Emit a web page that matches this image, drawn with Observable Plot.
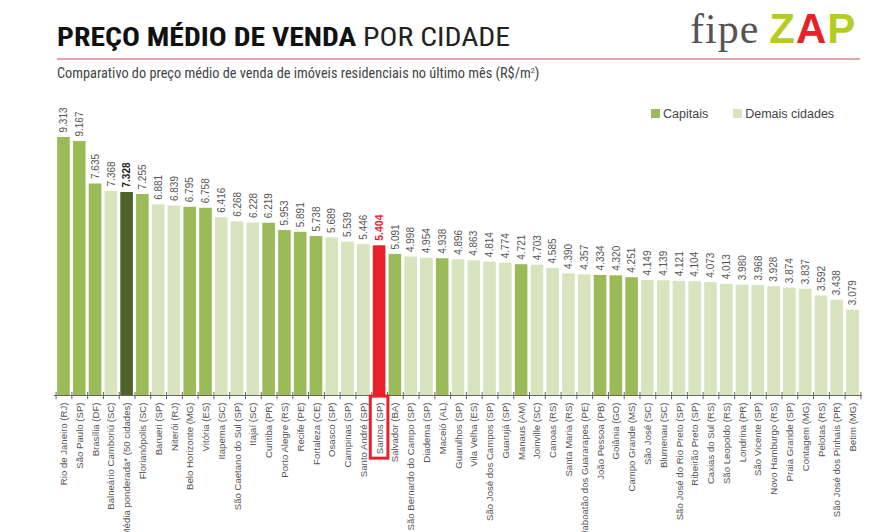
<!DOCTYPE html>
<html>
<head>
<meta charset="utf-8">
<script src="https://cdn.jsdelivr.net/npm/d3@7"></script>
<script src="https://cdn.jsdelivr.net/npm/@observablehq/plot@0.6"></script>
<style>
  html, body { margin: 0; padding: 0; background: #fff; }
  #wrap { position: relative; width: 888px; height: 532px; overflow: hidden; font-family: "Liberation Sans", Arial, sans-serif; }
  #header { position: relative; width: 888px; height: 90px; }
  #title { position: absolute; left: 57px; top: 22px; font-family: "Liberation Sans Narrow", "Roboto Condensed", "Liberation Sans", Arial, sans-serif; font-size: 26px; color: #111; white-space: nowrap; transform: scaleX(1.145); transform-origin: left top; }
  #title b { font-weight: bold; }
  #title span { font-weight: normal; color: #222; }
  #rule { position: absolute; left: 57px; top: 58px; width: 803px; height: 2px; background: #e3a3ab; }
  #subtitle { position: absolute; left: 57px; top: 65px; font-family: "Liberation Sans Narrow", "Roboto Condensed", "Liberation Sans", Arial, sans-serif; font-size: 14.3px; color: #444; white-space: nowrap; }
  #subtitle sup { font-size: 8px; vertical-align: 5px; }
  #logo { position: absolute; left: 690px; top: 5px; white-space: nowrap; }
  #logo .fipe { font-family: "Liberation Serif", "DejaVu Serif", serif; font-size: 42px; color: #555; letter-spacing: 1px; }
  #logo .zap { font-family: "Liberation Sans", Arial, sans-serif; font-weight: bold; font-size: 42px; color: #b5cc22; margin-left: 10px; letter-spacing: 1px; }
  #logo .zap i { font-style: normal; color: #e8202a; }
  #legend { position: absolute; left: 651px; top: 107px; font-size: 12.5px; color: #444; white-space: nowrap; z-index: 5; }
  #legend .sw { display: inline-block; width: 9px; height: 9px; margin-right: 3px; }
  #chart { position: absolute; left: 0; top: 90px; z-index: 1; }
</style>
</head>
<body>
<div id="wrap">
  <div id="header">
    <div id="title"><b>PREÇO MÉDIO DE VENDA</b> <span>POR CIDADE</span></div>
    <div id="logo"><span class="fipe">fipe</span><span class="zap">Z<i>A</i>P</span></div>
    <div id="rule"></div>
    <div id="subtitle">Comparativo do preço médio de venda de imóveis residenciais no último mês (R$/m<sup>2</sup>)</div>
  </div>
  <div id="legend"></div>
  <div id="chart"></div>
</div>
<script>
// ---- data ----
const cities = [
  "Rio de Janeiro (RJ)", "São Paulo (SP)", "Brasília (DF)", "Balneário Camboriú (SC)",
  "Média ponderada* (50 cidades)", "Florianópolis (SC)", "Barueri (SP)", "Niterói (RJ)",
  "Belo Horizonte (MG)", "Vitória (ES)", "Itapema (SC)", "São Caetano do Sul (SP)",
  "Itajaí (SC)", "Curitiba (PR)", "Porto Alegre (RS)", "Recife (PE)", "Fortaleza (CE)",
  "Osasco (SP)", "Campinas (SP)", "Santo André (SP)", "Santos (SP)", "Salvador (BA)",
  "São Bernardo do Campo (SP)", "Diadema (SP)", "Maceió (AL)", "Guarulhos (SP)",
  "Vila Velha (ES)", "São José dos Campos (SP)", "Guarujá (SP)", "Manaus (AM)",
  "Joinville (SC)", "Canoas (RS)", "Santa Maria (RS)", "Jaboatão dos Guararapes (PE)",
  "João Pessoa (PB)", "Goiânia (GO)", "Campo Grande (MS)", "São José (SC)", "Blumenau (SC)",
  "São José do Rio Preto (SP)", "Ribeirão Preto (SP)", "Caxias do Sul (RS)",
  "São Leopoldo (RS)", "Londrina (PR)", "São Vicente (SP)", "Novo Hamburgo (RS)",
  "Praia Grande (SP)", "Contagem (MG)", "Pelotas (RS)", "São José dos Pinhais (PR)", "Betim (MG)"
];
const prices = [
  9313, 9167, 7635, 7368, 7328, 7255, 6881, 6839, 6795, 6758, 6416, 6268, 6228, 6219,
  5953, 5891, 5738, 5689, 5539, 5446, 5404, 5091, 4998, 4954, 4938, 4896, 4863, 4814,
  4774, 4721, 4703, 4585, 4390, 4357, 4334, 4320, 4251, 4149, 4139, 4121, 4104, 4073,
  4013, 3980, 3968, 3928, 3874, 3837, 3592, 3438, 3079
];
// C = capital, D = demais cidades, M = média ponderada, S = Santos (destaque)
const groups = [
  "C","C","C","D","M","C","D","D","C","C","D","D","D","C","C","C","C","D","D","D","S","C",
  "D","D","C","D","D","D","D","C","D","D","D","D","C","C","C","D","D","D","D","D","D","D",
  "D","D","D","D","D","D","D"
];
const groupKeys = ["C", "D", "M", "S"];
const groupNames = ["Capitais", "Demais cidades", "Média ponderada", "Destaque"];
const groupColors = ["#9bbb59", "#d7e4bd", "#4f6228", "#e8202a"];
const highlightCity = "Santos (SP)";
const averageCity = "Média ponderada* (50 cidades)";

const data = cities.map((city, i) => ({ city, value: prices[i], group: groups[i] }));
const ptBR = d3.formatLocale({ decimal: ",", thousands: ".", grouping: [3], currency: ["R$", ""] });
const fmt = ptBR.format(",d");

// legend
document.getElementById("legend").innerHTML = [0, 1].map(i =>
  `<span style="margin-right:${i === 0 ? 25 : 0}px"><span class="sw" style="background:${groupColors[i]}"></span>${groupNames[i]}</span>`
).join("");

const W = 888, H = 442;
const mL = 54, mR = 26;
const step = (W - mL - mR) / (cities.length - 0.2 + 0.4);

const normal = data.filter(d => d.city !== highlightCity && d.city !== averageCity);

const chart = Plot.plot({
  width: W,
  height: H,
  marginLeft: mL,
  marginRight: mR,
  marginTop: 47,
  marginBottom: 137,
  style: { fontFamily: "'Liberation Sans', Arial, sans-serif", fontSize: "10px", background: "transparent", color: "#555" },
  x: { domain: cities, padding: 0.2, label: null },
  y: { domain: [0, 9313], axis: null },
  color: { domain: groupKeys, range: groupColors },
  marks: [
    Plot.barY(data, { x: "city", y: "value", fill: "group" }),
    Plot.ruleY([0], { stroke: "#666", strokeWidth: 1.2 }),
    Plot.ruleX(cities, { x: d => d, y1: 110, y2: -150, stroke: "#666", dx: -step / 2 }),
    Plot.ruleX(cities.slice(-1), { x: d => d, y1: 110, y2: -150, stroke: "#666", dx: step / 2 }),
    Plot.axisX({ tickRotate: -90, tickSize: 0, tickPadding: 7, fontSize: 9.6, fill: "#555", label: null }),
    Plot.text(normal, { x: "city", y: "value", text: d => fmt(d.value), rotate: -90, textAnchor: "start", dy: -5, fill: "#555", fontSize: 10 }),
    Plot.text(data.filter(d => d.city === averageCity), { x: "city", y: "value", text: d => fmt(d.value), rotate: -90, textAnchor: "start", dy: -5, fill: "#222", fontWeight: "bold", fontSize: 10 }),
    Plot.text(data.filter(d => d.city === highlightCity), { x: "city", y: "value", text: d => fmt(d.value), rotate: -90, textAnchor: "start", dy: -5, fill: "#e8202a", fontWeight: "bold", fontSize: 10.5 }),
    Plot.barY(data.filter(d => d.city === highlightCity), { x: "city", y1: -40, y2: -2280, fill: "none", stroke: "#e8202a", strokeWidth: 3, insetLeft: -2.5, insetRight: -2.5 })
  ]
});
document.getElementById("chart").appendChild(chart);
</script>
</body>
</html>
